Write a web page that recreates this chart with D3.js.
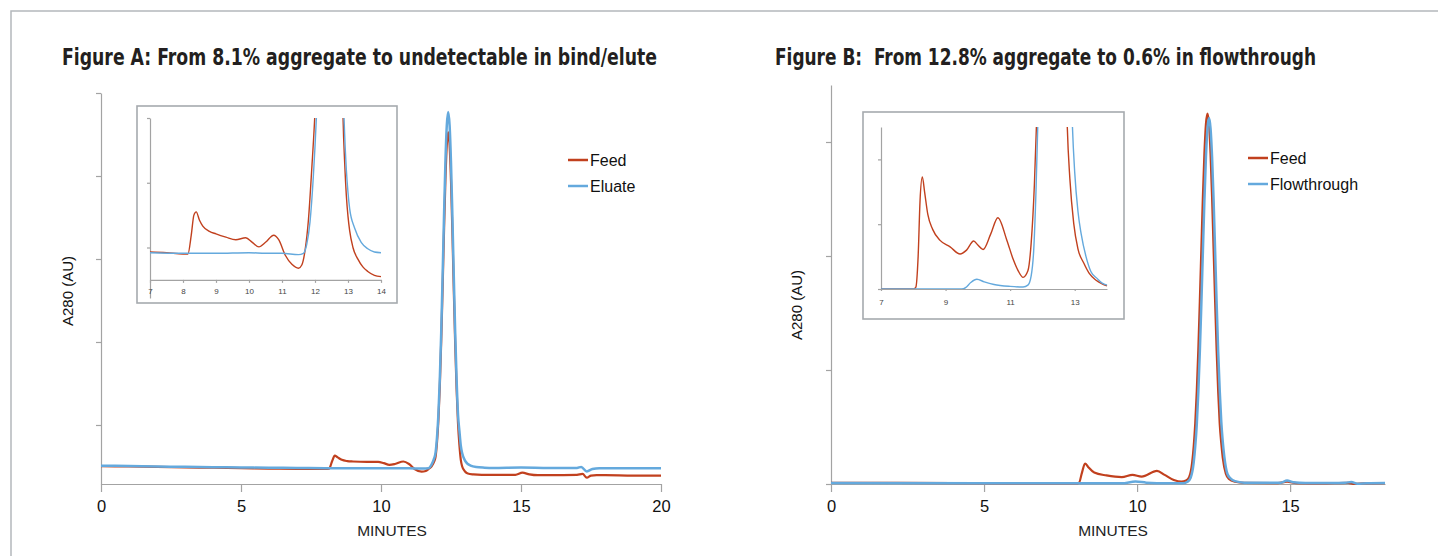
<!DOCTYPE html>
<html>
<head>
<meta charset="utf-8">
<script src="https://cdn.jsdelivr.net/npm/d3@7"></script>
<style>
  body { margin: 0; background: #fff; }
  svg { display: block; font-family: "Liberation Sans", Arial, sans-serif; }
  .title { font-family: "Liberation Sans Narrow", "DejaVu Sans Condensed", "Arial Narrow", sans-serif;
           font-weight: bold; font-size: 23px; fill: #231f20; white-space: pre; }
</style>
</head>
<body>
<script>
// Chromatogram traces, [minutes, absorbance] (arbitrary units)

// Figure A main trace
const feedA = [[0,50.5],[1,50],[2,49.5],[3,49],[4,48.5],[5,48],[6,47.5],[7,47.2],[8,47],[8.15,47.5],[8.25,56],[8.35,63],[8.45,61],[8.6,58],[8.8,56.5],[9,56],[9.5,55.5],[9.9,55.5],[10.1,54],[10.3,52],[10.5,53],[10.8,56],[11,53],[11.2,47],[11.45,43.7],[11.6,44.5],[11.7,47],[11.8,50],[11.9,56],[11.95,62],[12,79],[12.05,106],[12.1,146],[12.15,200],[12.2,264],[12.25,333],[12.3,394],[12.35,437],[12.4,453],[12.45,437],[12.5,394],[12.55,332],[12.6,262],[12.65,197],[12.7,143],[12.75,102],[12.8,76],[12.85,58],[12.9,50],[13,44],[13.1,41.5],[13.3,40.5],[13.6,40],[14,40],[14.8,40],[15.05,42.5],[15.3,40.5],[15.6,39.5],[16,39.5],[17,40],[17.2,41],[17.35,36.5],[17.5,39],[17.7,39.5],[18,39.5],[19,39],[20,39]];
const eluateA = [[0,51],[1,50.5],[2,50],[3,49.6],[4,49.2],[5,48.8],[6,48.5],[7,48.3],[8,48],[9,48],[10,48],[11,47.8],[11.5,47.5],[11.7,48],[11.8,52],[11.9,60],[11.95,67],[12,85],[12.05,113],[12.1,155],[12.15,211],[12.2,279],[12.25,351],[12.3,416],[12.35,461],[12.4,477],[12.45,461],[12.5,416],[12.55,351],[12.6,279],[12.65,211],[12.7,155],[12.75,113],[12.8,93],[12.85,75],[12.9,66],[13,57],[13.1,53],[13.2,51],[13.4,49.3],[13.7,48.6],[14,48.3],[15,48.8],[16,48.3],[17,48.3],[17.15,49.5],[17.35,44],[17.55,47],[17.8,48],[18.5,48],[20,48]];

// Figure A inset (7-14 min zoom)
const insetFeedA = [[7,0.43],[7.5,0.42],[8,0.40],[8.15,0.40],[8.25,0.69],[8.33,1.0],[8.4,1.05],[8.5,0.92],[8.6,0.83],[8.8,0.75],[9,0.71],[9.3,0.66],[9.6,0.62],[9.9,0.65],[10.1,0.58],[10.3,0.51],[10.5,0.58],[10.75,0.69],[10.9,0.62],[11.1,0.38],[11.3,0.24],[11.5,0.18],[11.6,0.23],[11.7,0.46],[11.8,0.92],[11.9,1.7],[12,2.6],[12.1,4],[12.8,4],[12.85,2.5],[12.9,1.8],[12.95,1.3],[13,0.98],[13.05,0.76],[13.15,0.5],[13.3,0.32],[13.45,0.2],[13.6,0.13],[13.8,0.07],[14,0.05]];
const insetEluateA = [[7,0.42],[8,0.41],[9,0.41],[10,0.42],[10.5,0.41],[11,0.41],[11.5,0.39],[11.65,0.41],[11.75,0.55],[11.85,0.9],[11.95,1.6],[12.05,2.6],[12.15,4],[12.8,4],[12.88,2.5],[12.95,1.7],[13,1.35],[13.05,1.1],[13.2,0.8],[13.4,0.58],[13.6,0.48],[13.8,0.43],[14,0.42]];

// Figure B main trace
const feedB = [[0,0.01],[4,0.008],[8,0.005],[8.1,0.01],[8.2,0.1],[8.3,0.18],[8.4,0.15],[8.6,0.1],[9,0.075],[9.5,0.06],[9.85,0.08],[10.15,0.065],[10.65,0.115],[10.9,0.08],[11.2,0.035],[11.45,0.02],[11.6,0.03],[11.7,0.06],[11.8,0.19],[11.85,0.33],[11.9,0.53],[11.95,0.81],[12,1.17],[12.05,1.6],[12.1,2.06],[12.15,2.52],[12.2,2.9],[12.25,3.16],[12.3,3.25],[12.35,3.16],[12.4,2.9],[12.45,2.52],[12.5,2.06],[12.55,1.6],[12.6,1.17],[12.65,0.81],[12.7,0.53],[12.75,0.36],[12.8,0.23],[12.9,0.09],[13,0.045],[13.2,0.02],[13.5,0.01],[14.6,0.008],[14.9,0.02],[15.2,0.008],[16,0.005],[16.9,0.01],[17.1,0.0],[17.4,0.005],[18.1,0.008]];
const flowB = [[0,0.008],[5,0.006],[9.5,0.006],[9.95,0.022],[10.3,0.012],[11,0.006],[11.5,0.006],[11.65,0.02],[11.75,0.055],[11.85,0.19],[11.9,0.33],[11.95,0.52],[12,0.8],[12.05,1.16],[12.1,1.58],[12.15,2.04],[12.2,2.49],[12.25,2.87],[12.3,3.12],[12.35,3.21],[12.4,3.12],[12.45,2.87],[12.5,2.49],[12.55,2.04],[12.6,1.58],[12.65,1.16],[12.7,0.82],[12.75,0.55],[12.8,0.37],[12.85,0.24],[12.95,0.09],[13.05,0.05],[13.2,0.025],[13.5,0.012],[14,0.01],[14.7,0.012],[14.9,0.03],[15.1,0.015],[15.5,0.008],[16.8,0.01],[17,0.018],[17.2,0.003],[17.5,0.006],[18.1,0.008]];

// Figure B inset
const insetFeedB = [[7,0],[8,0],[8.08,0.03],[8.15,0.5],[8.21,1.37],[8.28,1.73],[8.35,1.5],[8.45,1.15],[8.6,0.92],[8.83,0.75],[9.14,0.65],[9.45,0.54],[9.65,0.6],[9.87,0.74],[10,0.68],[10.16,0.61],[10.4,0.85],[10.62,1.1],[10.9,0.75],[11.1,0.45],[11.25,0.28],[11.4,0.18],[11.55,0.28],[11.65,0.7],[11.75,1.6],[11.82,2.6],[11.9,4],[12.7,4],[12.77,2.5],[12.85,1.7],[12.97,1.01],[13.1,0.62],[13.28,0.4],[13.45,0.24],[13.65,0.14],[13.85,0.08],[14,0.05]];
const insetFlowB = [[7,0],[9.5,0],[9.62,0.02],[9.78,0.1],[9.97,0.15],[10.2,0.11],[10.5,0.07],[11,0.04],[11.4,0.03],[11.55,0.06],[11.65,0.2],[11.73,0.6],[11.8,1.5],[11.86,2.6],[11.95,4],[12.85,4],[12.93,2.5],[13,1.8],[13.1,1.2],[13.2,0.85],[13.35,0.5],[13.5,0.27],[13.7,0.16],[13.85,0.09],[14,0.06]];

// Axis ticks
const xTicksA = [0, 5, 10, 15, 20];
const yTicksA = [100, 200, 300, 400, 500];
const xTicksB = [0, 5, 10, 15];
const yTicksB = [0, 1, 2, 3];
const insetXTicksA = [7, 8, 9, 10, 11, 12, 13, 14];
const insetYTicksA = [0.5, 1.5, 2.5];
const insetXTicksB = [7, 9, 11, 13];
const insetYTicksB = [0, 1, 2];

const titles = ["Figure A: From 8.1% aggregate to undetectable in bind/elute",
                "Figure B:  From 12.8% aggregate to 0.6% in flowthrough"];

const RED = "#c1401e";
const BLUE = "#64a9dd";
const AXIS = "#a3a3a3";

const svg = d3.select("body").append("svg")
    .attr("width", 1438)
    .attr("height", 556);

// Outer frame
svg.append("rect")
    .attr("x", 11).attr("y", 11)
    .attr("width", 1460).attr("height", 580)
    .attr("fill", "none")
    .attr("stroke", "#b4b8bc")
    .attr("stroke-width", 1.5);

function styleAxis(g, fontSize, color) {
    g.selectAll("path.domain").attr("stroke", AXIS).attr("stroke-width", 1.2);
    g.selectAll(".tick line").attr("stroke", AXIS).attr("stroke-width", 1.2);
    g.selectAll("text")
        .attr("font-family", "'Liberation Sans', Arial, sans-serif")
        .attr("font-size", fontSize)
        .attr("fill", color);
}

function drawMain(p) {
    const x = d3.scaleLinear().domain(p.xDomain).range([p.left, p.right]);
    const y = d3.scaleLinear().domain(p.yDomain).range([p.bottom, p.top]);

    const yAxis = svg.append("g")
        .attr("transform", `translate(${p.left},0)`)
        .call(d3.axisLeft(y).tickValues(p.yTicks).tickSize(5).tickSizeOuter(0).tickFormat(""));
    styleAxis(yAxis, 0, "#000");

    const xAxis = svg.append("g")
        .attr("transform", `translate(0,${p.bottom})`)
        .call(d3.axisBottom(x).tickValues(p.xTicks).tickSize(8).tickSizeOuter(0).tickPadding(8)
            .tickFormat(d3.format("d")));
    styleAxis(xAxis, 16.5, "#111");

    const line = d3.line()
        .x(d => x(d[0]))
        .y(d => y(d[1]))
        .curve(d3.curveMonotoneX);

    svg.append("path").datum(p.feed)
        .attr("d", line).attr("fill", "none")
        .attr("stroke", RED).attr("stroke-width", 2.2);
    svg.append("path").datum(p.other)
        .attr("d", line).attr("fill", "none")
        .attr("stroke", BLUE).attr("stroke-width", 2.5);

    // Axis labels
    svg.append("text")
        .attr("transform", `translate(${p.yLabelX},${p.yLabelY}) rotate(-90)`)
        .attr("text-anchor", "middle")
        .attr("dy", "0.35em")
        .attr("font-size", 15)
        .attr("fill", "#111")
        .text("A280 (AU)");

    svg.append("text")
        .attr("x", p.xLabelX)
        .attr("y", 536)
        .attr("text-anchor", "middle")
        .attr("font-size", 15.5)
        .attr("fill", "#222")
        .text("MINUTES");

    // Title
    svg.append("text")
        .attr("class", "title")
        .attr("x", p.titleX)
        .attr("y", 65)
        .attr("textLength", p.titleW)
        .attr("lengthAdjust", "spacingAndGlyphs")
        .text(p.title);

    // Legend
    p.legend.forEach((lg, i) => {
        const ly = p.legendY + i * 26;
        svg.append("line")
            .attr("x1", p.legendX).attr("x2", p.legendX + 20)
            .attr("y1", ly).attr("y2", ly)
            .attr("stroke", lg.color).attr("stroke-width", 2.5);
        svg.append("text")
            .attr("x", p.legendX + 22)
            .attr("y", ly)
            .attr("dy", "0.35em")
            .attr("font-size", 16)
            .attr("fill", "#111")
            .text(lg.name);
    });
}

function drawInset(p, id) {
    svg.append("rect")
        .attr("x", p.box[0]).attr("y", p.box[1])
        .attr("width", p.box[2]).attr("height", p.box[3])
        .attr("fill", "#fff")
        .attr("stroke", "#a6aaae")
        .attr("stroke-width", 1.6);

    const x = d3.scaleLinear().domain(p.xDomain).range([p.left, p.right]);
    const y = d3.scaleLinear().domain(p.yDomain).range([p.bottom, p.top]);

    const yAxis = svg.append("g")
        .attr("transform", `translate(${p.left},0)`)
        .call(d3.axisLeft(y).tickValues(p.yTicks).tickSize(3).tickSizeOuter(0).tickFormat(""));
    styleAxis(yAxis, 0, "#000");

    const xAxis = svg.append("g")
        .attr("transform", `translate(0,${y(0)})`)
        .call(d3.axisBottom(x).tickValues(p.xTicks).tickSize(p.xTickSize).tickSizeOuter(0)
            .tickPadding(p.xTickPad).tickFormat(d3.format("d")));
    styleAxis(xAxis, 8, "#444");

    svg.append("clipPath").attr("id", id)
        .append("rect")
        .attr("x", p.left).attr("y", p.top)
        .attr("width", p.right - p.left + 1)
        .attr("height", p.bottom - p.top);

    const line = d3.line()
        .x(d => x(d[0]))
        .y(d => y(d[1]))
        .curve(d3.curveMonotoneX);

    const g = svg.append("g").attr("clip-path", `url(#${id})`);
    g.append("path").datum(p.feed)
        .attr("d", line).attr("fill", "none")
        .attr("stroke", RED).attr("stroke-width", 1.4);
    g.append("path").datum(p.other)
        .attr("d", line).attr("fill", "none")
        .attr("stroke", BLUE).attr("stroke-width", 1.4);
}

drawMain({
    left: 101, right: 661, top: 93, bottom: 484,
    xDomain: [0, 20], yDomain: [28.9, 500],
    xTicks: xTicksA, yTicks: yTicksA,
    feed: feedA, other: eluateA,
    yLabelX: 68, yLabelY: 291, xLabelX: 392,
    title: titles[0], titleX: 62, titleW: 595,
    legendX: 568, legendY: 160,
    legend: [{ name: "Feed", color: RED }, { name: "Eluate", color: BLUE }]
});

drawMain({
    left: 831, right: 1385, top: 85, bottom: 484,
    xDomain: [0, 18.1], yDomain: [0, 3.5],
    xTicks: xTicksB, yTicks: yTicksB,
    feed: feedB, other: flowB,
    yLabelX: 797, yLabelY: 305, xLabelX: 1113,
    title: titles[1], titleX: 775, titleW: 541,
    legendX: 1248, legendY: 158,
    legend: [{ name: "Feed", color: RED }, { name: "Flowthrough", color: BLUE }]
});

drawInset({
    box: [137, 106, 260, 197],
    left: 150, right: 381, top: 118, bottom: 298,
    xDomain: [7, 14], yDomain: [-0.28, 2.5],
    xTicks: insetXTicksA, yTicks: insetYTicksA,
    xTickSize: 3, xTickPad: 5,
    feed: insetFeedA, other: insetEluateA
}, "clipA");

drawInset({
    box: [863, 112, 261, 207],
    left: 881, right: 1107, top: 127, bottom: 289,
    xDomain: [7, 14], yDomain: [0, 2.5],
    xTicks: insetXTicksB, yTicks: insetYTicksB,
    xTickSize: 2, xTickPad: 8,
    feed: insetFeedB, other: insetFlowB
}, "clipB");
</script>
</body>
</html>
